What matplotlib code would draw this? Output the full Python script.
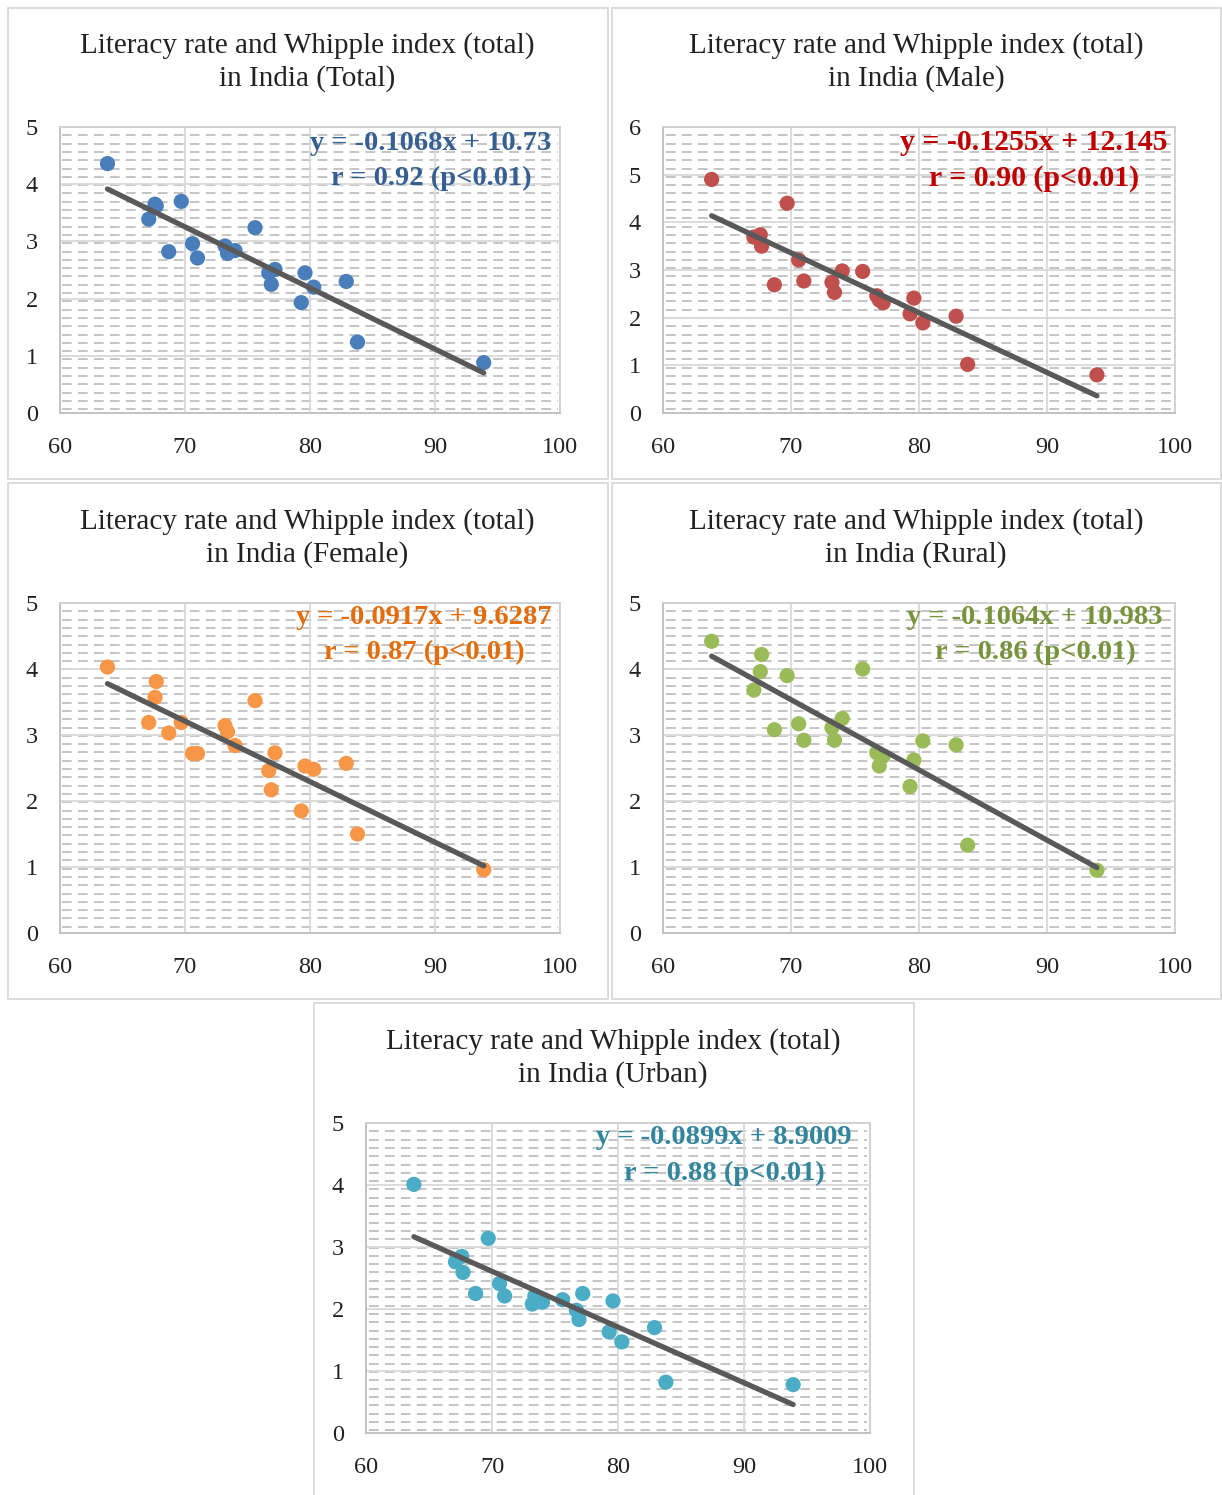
import numpy as np
import matplotlib
matplotlib.use("Agg")
import matplotlib.pyplot as plt
from matplotlib.collections import LineCollection
from matplotlib.patches import Rectangle

plt.rcParams['font.family'] = ['Liberation Serif', 'DejaVu Serif']
plt.rcParams['lines.scale_dashes'] = False

W, H = 1222, 1495

# literacy rate (x), shared by all panels
literacy = [63.8, 67.1, 67.6, 67.7, 68.7, 69.7, 70.6, 71.0, 73.2, 73.4, 74.0,
            75.6, 76.7, 76.9, 77.2, 79.3, 79.6, 80.3, 82.9, 83.8, 93.9]

# Whipple index per panel
whipple_total = [4.36, 3.39, 3.65, 3.62, 2.82, 3.70, 2.96, 2.71, 2.92, 2.79, 2.84,
                 3.24, 2.45, 2.25, 2.51, 1.93, 2.45, 2.20, 2.30, 1.24, 0.88]
whipple_male = [4.90, 3.69, 3.74, 3.50, 2.69, 4.40, 3.21, 2.77, 2.74, 2.53, 2.98,
                2.97, 2.46, 2.37, 2.31, 2.08, 2.41, 1.89, 2.03, 1.02, 0.80]
whipple_female = [4.03, 3.19, 3.57, 3.81, 3.03, 3.19, 2.72, 2.72, 3.14, 3.05, 2.84,
                  3.52, 2.46, 2.17, 2.73, 1.85, 2.53, 2.48, 2.57, 1.50, 0.96]
whipple_rural = [4.42, 3.68, 3.96, 4.22, 3.08, 3.90, 3.17, 2.92, 3.11, 2.92, 3.25,
                 4.00, 2.73, 2.53, 2.68, 2.22, 2.62, 2.91, 2.85, 1.33, 0.95]
whipple_urban = [4.01, 2.76, 2.85, 2.59, 2.25, 3.14, 2.41, 2.21, 2.08, 2.21, 2.11,
                 2.15, 1.98, 1.83, 2.25, 1.63, 2.13, 1.47, 1.70, 0.82, 0.78]

panel_names = ['Total', 'Male', 'Female', 'Rural', 'Urban']
slopes = [-0.1068, -0.1255, -0.0917, -0.1064, -0.0899]
intercepts = [10.73, 12.145, 9.6287, 10.983, 8.9009]
r_values = [0.92, 0.90, 0.87, 0.86, 0.88]
y_max = [5, 6, 5, 5, 5]

dot_colors = ['#4A7EBB', '#C0504D', '#F79646', '#9BBB59', '#4BACC6']
text_colors = ['#376092', '#C00000', '#E46C0A', '#77933C', '#31859C']
eq_sizes = [20.5, 21.5, 20.5, 20.5, 20.5]

# layout in pixels: plot area (x0, x1, ytop, ybottom), border box, title centre
plot_px = [(60, 560, 127, 413), (663, 1175, 127, 413),
           (60, 560, 603, 933), (663, 1175, 603, 933),
           (366, 870, 1123, 1433)]
box_px = [(8, 608, 8, 479), (612, 1221, 8, 479),
          (8, 608, 483, 999), (612, 1221, 483, 999),
          (314, 914, 1003, 1500)]
title_px = [(307, 46), (916, 46), (307, 522), (916, 522), (613, 1042)]
eq_px = [(431, 143), (1034, 143), (424, 617), (1035, 617), (724, 1138)]

all_y = [whipple_total, whipple_male, whipple_female, whipple_rural, whipple_urban]

fig = plt.figure(figsize=(W / 100, H / 100), dpi=100)


def fx(px):
    return px / W


def fy(py):
    return 1 - py / H


for i in range(5):
    bx0, bx1, by0, by1 = box_px[i]
    fig.patches.append(Rectangle((fx(bx0), fy(by1)), fx(bx1 - bx0), (by1 - by0) / H,
                                 transform=fig.transFigure, fill=False,
                                 edgecolor='#d9d9d9', linewidth=1.3))

    x0, x1, yt, yb = plot_px[i]
    ax = fig.add_axes([fx(x0), fy(yb), fx(x1 - x0), (yb - yt) / H])
    ax.set_xlim(60, 100)
    ax.set_ylim(0, y_max[i])
    ax.set_xticks([60, 70, 80, 90, 100])
    ax.set_yticks(range(0, y_max[i] + 1))
    ax.tick_params(length=0, labelsize=17.5, pad=16, colors='#222222')
    ax.tick_params(axis='x', pad=17.5)
    ax.grid(True, color='#d9d9d9', linewidth=1.3, zorder=0)
    ax.set_axisbelow(True)
    for s in ax.spines.values():
        s.set_color('#d0d0d0')
        s.set_linewidth(1.3)
    ax.spines['left'].set_color('#bfbfbf')
    ax.spines['bottom'].set_color('#bfbfbf')

    # dashed horizontal pattern fill of the plot area
    h = yb - yt
    step = 8.3
    segs = []
    k = 1
    while k * step < h - 2:
        f = 1 - (k * step) / h
        segs.append([(0.005, f), (0.995, f)])
        k += 1
    lc = LineCollection(segs, transform=ax.transAxes, colors='#c4c4c4',
                        linewidths=1.4, linestyles=[(0, (7, 4.5))], zorder=0.5)
    ax.add_collection(lc)

    ax.scatter(literacy, all_y[i], s=120, color=dot_colors[i], zorder=3,
               edgecolors='none')
    xs = np.array([min(literacy), max(literacy)])
    ax.plot(xs, slopes[i] * xs + intercepts[i], color='#595959', linewidth=3.8,
            solid_capstyle='round', zorder=4)

    tx, ty = title_px[i]
    fig.text(fx(tx), fy(ty), 'Literacy rate and Whipple index (total)',
             ha='center', va='center', fontsize=21, color='#222222')
    fig.text(fx(tx), fy(ty + 33), 'in India (%s)' % panel_names[i],
             ha='center', va='center', fontsize=21, color='#222222')

    ex, ey = eq_px[i]
    fig.text(fx(ex), fy(ey), 'y = %sx + %s' % (slopes[i], intercepts[i]),
             ha='center', va='center', fontsize=eq_sizes[i], color=text_colors[i],
             fontweight='bold', zorder=5)
    fig.text(fx(ex), fy(ey + 35), 'r = %.2f (p<0.01)' % r_values[i],
             ha='center', va='center', fontsize=eq_sizes[i], color=text_colors[i],
             fontweight='bold', zorder=5)

fig.savefig('out.png', dpi=100, facecolor='white')
